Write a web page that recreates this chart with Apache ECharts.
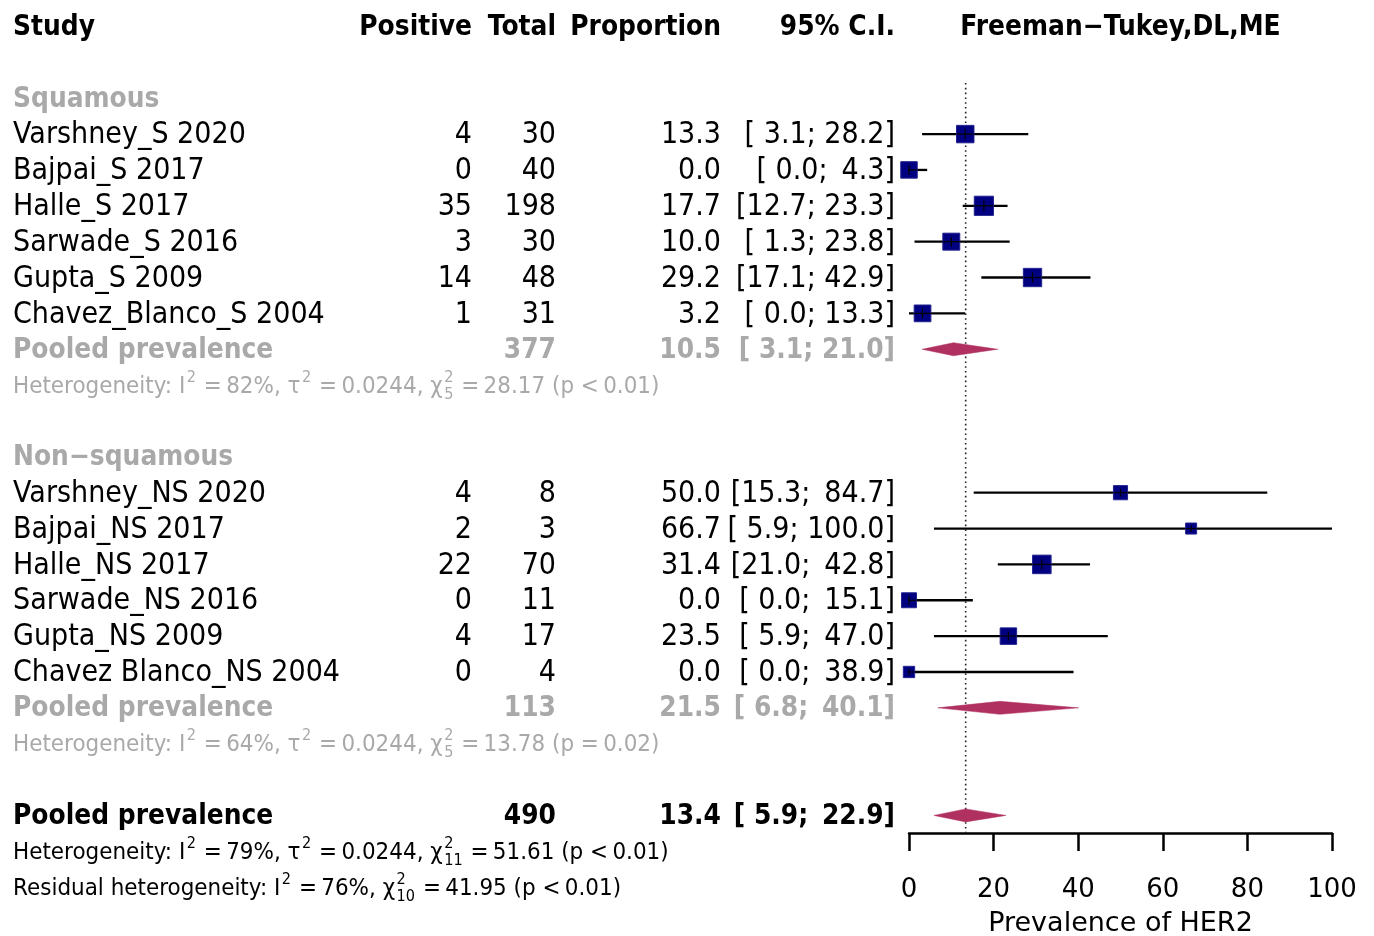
<!DOCTYPE html>
<html><head><meta charset="utf-8">
<script src="https://cdn.jsdelivr.net/npm/echarts@6/dist/echarts.min.js"></script>
<style>html,body{margin:0;padding:0;background:#fff}#c{width:1374px;height:936px}</style>
</head><body><div id="c"></div>
<script>
// ---------------- DATA ----------------
const studyNames = ['Varshney_S 2020','Bajpai_S 2017','Halle_S 2017','Sarwade_S 2016','Gupta_S 2009','Chavez_Blanco_S 2004',
  'Varshney_NS 2020','Bajpai_NS 2017','Halle_NS 2017','Sarwade_NS 2016','Gupta_NS 2009','Chavez Blanco_NS 2004'];
const studyGroup = [0,0,0,0,0,0,1,1,1,1,1,1];
const positive   = [4,0,35,3,14,1, 4,2,22,0,4,0];
const total      = [30,40,198,30,48,31, 8,3,70,11,17,4];
const proportion = [13.3,0.0,17.7,10.0,29.2,3.2, 50.0,66.7,31.4,0.0,23.5,0.0];
const ciLower    = [3.1,0.0,12.7,1.3,17.1,0.0, 15.3,5.9,21.0,0.0,5.9,0.0];
const ciUpper    = [28.2,4.3,23.3,23.8,42.9,13.3, 84.7,100.0,42.8,15.1,47.0,38.9];
const boxWeight  = [19,17,23,18,21,17.5, 12.5,7.6,21.5,14,17,8];   // relative weights

const groupNames  = ['Squamous','Non\u2212squamous'];
const groupTotal  = [377,113];
const groupEst    = [10.5,21.5];
const groupLower  = [3.1,6.8];
const groupUpper  = [21.0,40.1];
const groupI2     = [82,64];
const groupTau2   = ['0.0244','0.0244'];
const groupChi2   = ['28.17','13.78'];
const groupDf     = [5,5];
const groupP      = ['< 0.01','= 0.02'];

const overallTotal = 490, overallEst = 13.4, overallLower = 5.9, overallUpper = 22.9;
const overallI2 = 79, overallTau2 = '0.0244', overallChi2 = '51.61', overallDf = 11, overallP = '< 0.01';
const residI2 = 76, residChi2 = '41.95', residDf = 10, residP = '< 0.01';

const headers = ['Study','Positive','Total','Proportion','95% C.I.','Freeman\u2212Tukey,DL,ME'];
const xTicks = [0,20,40,60,80,100];
const axisTitle = 'Prevalence of HER2';

// ---------------- LAYOUT / STYLE ----------------
const FONT = 'DejaVu Sans';
const GREY = '#a9a9a9';
const NAVY = '#000080';
const MAROON = '#b03060';
const ROW_H = 35.86, TOP0 = 26.5, TEXT_DY = 1.5;
const COL = {study:13, pos:472, tot:556, prop:721, ci:895, plot:1120.5};
const REG = 27, BOLD = 25, HET = 21.5, SUP = 14.5, SY = 1.1;

const fmt = v => v.toFixed(1);
const pad = (s, w, ch) => (ch || ' ').repeat(Math.max(0, w - s.length)) + s;
function ciText(lo, hi, wl, wu){ return '[' + pad(fmt(lo), wl) + '; ' + pad(fmt(hi), wu, '\u2009') + ']'; }
function widths(idx){
  let wl = 0, wu = 0;
  idx.forEach(i => { wl = Math.max(wl, fmt(ciLower[i]).length); wu = Math.max(wu, fmt(ciUpper[i]).length); });
  return [wl, wu];
}
const TS = '\u2009';
function hetSegs(prefix, i2, tau2, chi2, df, p){
  const s = [{t: prefix + 'I'}, {sup:'2'}, {t:' =' + TS + i2 + '%, '}];
  if (tau2 !== null) { s.push({t:'\u03c4'}, {sup:'2'}, {t:' =' + TS + tau2 + ', '}); }
  const pp = p.split(' ');
  s.push({t:'\u03c7'}, {sup:'2', sub:String(df)}, {t:' =' + TS + chi2 + ' (p ' + pp[0] + TS + pp[1] + ')'});
  return s;
}

// build table rows
const tableRows = [];
tableRows.push({row:0, cells:[
  {text:headers[0], x:COL.study, align:'left', bold:true},
  {text:headers[1], x:COL.pos, align:'right', bold:true},
  {text:headers[2], x:COL.tot, align:'right', bold:true},
  {text:headers[3], x:COL.prop, align:'right', bold:true},
  {text:headers[4], x:COL.ci, align:'right', bold:true},
  {text:headers[5], x:COL.plot, align:'center', bold:true}
]});
const forestData = [], diamondData = [];
groupNames.forEach((g, gi) => {
  const base = 2 + gi * 10;
  const idx = studyGroup.map((v,i)=>v===gi?i:-1).filter(i=>i>=0);
  const [wl, wu] = widths(idx);
  tableRows.push({row:base, cells:[{text:g, x:COL.study, align:'left', bold:true, color:GREY}]});
  idx.forEach((i, k) => {
    const r = base + 1 + k;
    tableRows.push({row:r, cells:[
      {text:studyNames[i], x:COL.study, align:'left'},
      {text:String(positive[i]), x:COL.pos, align:'right'},
      {text:String(total[i]), x:COL.tot, align:'right'},
      {text:fmt(proportion[i]), x:COL.prop, align:'right'},
      {text:ciText(ciLower[i], ciUpper[i], wl, wu), x:COL.ci, align:'right'}
    ]});
    forestData.push([proportion[i], ciLower[i], ciUpper[i], r, boxWeight[i]]);
  });
  tableRows.push({row:base+7, cells:[
    {text:'Pooled prevalence', x:COL.study, align:'left', bold:true, color:GREY},
    {text:String(groupTotal[gi]), x:COL.tot, align:'right', bold:true, color:GREY},
    {text:fmt(groupEst[gi]), x:COL.prop, align:'right', bold:true, color:GREY},
    {text:ciText(groupLower[gi], groupUpper[gi], wl, wu), x:COL.ci, align:'right', bold:true, color:GREY}
  ]});
  diamondData.push([groupEst[gi], groupLower[gi], groupUpper[gi], base+7]);
  tableRows.push({row:base+8, het:hetSegs('Heterogeneity: ', groupI2[gi], groupTau2[gi], groupChi2[gi], groupDf[gi], groupP[gi]), color:GREY});
});
{
  const [wl, wu] = widths(studyNames.map((_,i)=>i));
  tableRows.push({row:22, cells:[
    {text:'Pooled prevalence', x:COL.study, align:'left', bold:true},
    {text:String(overallTotal), x:COL.tot, align:'right', bold:true},
    {text:fmt(overallEst), x:COL.prop, align:'right', bold:true},
    {text:ciText(overallLower, overallUpper, wl, wu), x:COL.ci, align:'right', bold:true}
  ]});
  diamondData.push([overallEst, overallLower, overallUpper, 22]);
  tableRows.push({row:23, het:hetSegs('Heterogeneity: ', overallI2, overallTau2, overallChi2, overallDf, overallP), color:'#000'});
  tableRows.push({row:24, het:hetSegs('Residual heterogeneity: ', residI2, null, residChi2, residDf, residP), color:'#000'});
}

const mctx = document.createElement('canvas').getContext('2d');
function measure(t, size){ mctx.font = size + 'px "' + FONT + '"'; return mctx.measureText(t).width; }
function txt(text, x, y, size, weight, color, align){
  return {type:'text', x:x, y:y, scaleY:SY, style:{text:text, fontSize:size, fontFamily:FONT, fontWeight:weight,
    fill:color, align:align, textAlign:align, verticalAlign:'middle', textVerticalAlign:'middle'}};
}

const chart = echarts.init(document.getElementById('c'), null, {renderer:'canvas'});
chart.setOption({
  animation:false,
  backgroundColor:'#fff',
  grid:[
    {left:909, right:42, top:TOP0, bottom:103, containLabel:false, outerBoundsMode:'none'},
    {left:0, right:0, top:TOP0, height:ROW_H*24, containLabel:false, outerBoundsMode:'none'}
  ],
  xAxis:[
    {gridIndex:0, type:'value', position:'bottom', min:0, max:100, interval:20,
     axisLine:{onZero:false, lineStyle:{color:'#000', width:2.5}},
     axisTick:{length:18, lineStyle:{color:'#000', width:2.5}},
     splitLine:{show:false},
     axisLabel:{color:'#000', fontSize:26, fontFamily:FONT, margin:44,
       formatter: v => xTicks.indexOf(v) >= 0 ? String(v) : ''},
     name:axisTitle, nameLocation:'middle', nameGap:77,
     nameTextStyle:{color:'#000', fontSize:27, fontFamily:FONT}},
    {gridIndex:1, type:'value', min:0, max:1374, show:false}
  ],
  yAxis:[
    {gridIndex:0, type:'value', inverse:true, min:0, max:(833-TOP0)/ROW_H, show:false},
    {gridIndex:1, type:'value', inverse:true, min:0, max:24, show:false}
  ],
  series:[
    {type:'line', xAxisIndex:0, yAxisIndex:0, z:1, symbol:'none', silent:true,
     data:[[overallEst, (83-TOP0)/ROW_H], [overallEst, (833-TOP0)/ROW_H]],
     lineStyle:{color:'#222', width:1.6, type:[1.6,3.2]}},
    {type:'custom', xAxisIndex:0, yAxisIndex:0, z:3, data:forestData,
     renderItem:function(params, api){
       const est = api.value(0), lo = api.value(1), hi = api.value(2), r = api.value(3), w = api.value(4);
       const pL = api.coord([lo, r]), pH = api.coord([hi, r]), pE = api.coord([est, r]);
       const s = 4.0 * Math.sqrt(w);
       return {type:'group', children:[
         {type:'line', shape:{x1:pL[0], y1:pL[1], x2:pH[0], y2:pH[1]}, style:{stroke:'#000', lineWidth:2.3}},
         {type:'rect', shape:{x:pE[0]-s/2, y:pE[1]-s/2, width:s, height:s}, style:{fill:NAVY, stroke:'#23238f', lineWidth:1}},
         {type:'line', shape:{x1:pE[0], y1:pE[1]-s*0.28, x2:pE[0], y2:pE[1]+s*0.28}, style:{stroke:'#000', lineWidth:1.2}},
         {type:'line', shape:{x1:Math.max(pL[0], pE[0]-s/2), y1:pE[1], x2:Math.min(pH[0], pE[0]+s/2), y2:pE[1]}, style:{stroke:'#000', lineWidth:1.2}}
       ]};
     }},
    {type:'custom', xAxisIndex:0, yAxisIndex:0, z:3, data:diamondData,
     renderItem:function(params, api){
       const est = api.value(0), lo = api.value(1), hi = api.value(2), r = api.value(3);
       const pL = api.coord([lo, r]), pH = api.coord([hi, r]), pE = api.coord([est, r]);
       const h = 6.5;
       return {type:'polygon', shape:{points:[[pL[0],pL[1]],[pE[0],pE[1]-h],[pH[0],pH[1]],[pE[0],pE[1]+h]]},
         style:{fill:MAROON, stroke:MAROON, lineWidth:0.5}};
     }},
    {type:'custom', xAxisIndex:1, yAxisIndex:1, z:4, silent:true,
     data:tableRows.map(t => [0, t.row]),
     renderItem:function(params, api){
       const t = tableRows[params.dataIndex];
       const y = api.coord([0, t.row])[1] + TEXT_DY;
       const children = [];
       if (t.cells) {
         t.cells.forEach(c => {
           children.push(txt(c.text, c.x, y, c.bold ? BOLD : REG, c.bold ? 'bold' : 'normal', c.color || '#000', c.align));
         });
       } else if (t.het) {
         let x = COL.study;
         t.het.forEach(seg => {
           if (seg.t !== undefined) {
             children.push(txt(seg.t, x, y, HET, 'normal', t.color, 'left'));
             x += measure(seg.t, HET);
           } else {
             x += 1.5;
             let adv = 0;
             if (seg.sup) { children.push(txt(seg.sup, x, y - 9, SUP, 'normal', t.color, 'left')); adv = Math.max(adv, measure(seg.sup, SUP)); }
             if (seg.sub) { children.push(txt(seg.sub, x, y + 8, SUP, 'normal', t.color, 'left')); adv = Math.max(adv, measure(seg.sub, SUP)); }
             x += adv + 1;
           }
         });
       }
       return {type:'group', children:children};
     }}
  ]
});
</script>
</body></html>
